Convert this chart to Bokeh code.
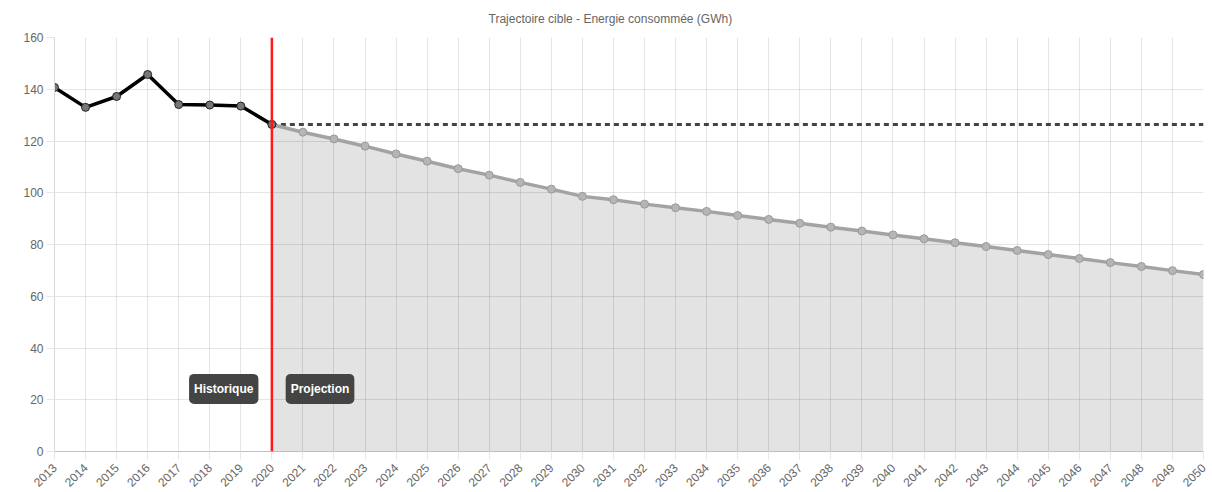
import math
from bokeh.plotting import figure
from bokeh.models import FixedTicker, Span, Label, Range1d
from bokeh.embed import file_html
from bokeh.resources import INLINE

# ---- data ----
years_hist = [2013, 2014, 2015, 2016, 2017, 2018, 2019, 2020]
energy_hist = [140.7, 133.0, 137.2, 145.7, 134.1, 133.9, 133.5, 126.4]

years_proj = list(range(2020, 2051))
energy_proj = [126.4, 123.4, 120.8, 118.0, 115.0, 112.2, 109.3, 106.8, 104.0, 101.4,
               98.6, 97.3, 95.6, 94.2, 92.8, 91.2, 89.7, 88.2, 86.7, 85.2,
               83.7, 82.2, 80.7, 79.2, 77.7, 76.1, 74.6, 73.0, 71.5, 69.9, 68.4]

ref_level = 126.4
ref_years = [2020, 2050]

y_ticks = [0, 20, 40, 60, 80, 100, 120, 140, 160]
x_ticks = list(range(2013, 2051))
split_year = 2020
title_text = "Trajectoire cible - Energie consommée (GWh)"
label_hist = "Historique"
label_proj = "Projection"

FONT = "Liberation Sans"

p = figure(frame_width=1149, frame_height=414, output_backend="svg", toolbar_location=None,
           x_range=Range1d(2013, 2050), y_range=Range1d(0, 160),
           min_border_left=54, min_border_top=37, min_border_right=8, min_border_bottom=0)

p.title.text = title_text
p.title.align = "left"
p.title.vertical_align = "top"
p.title.text_font = FONT
p.title.text_font_size = "12px"
p.title.text_font_style = "normal"
p.title.text_color = "#666666"
p.title.offset = 434
p.title.standoff = 19

p.outline_line_color = None
p.background_fill_color = "white"
p.border_fill_color = "white"

p.xgrid.ticker = FixedTicker(ticks=x_ticks)
p.ygrid.ticker = FixedTicker(ticks=y_ticks)
p.grid.grid_line_color = "black"
p.grid.grid_line_alpha = 0.1
p.grid.grid_line_width = 1

p.xaxis.ticker = FixedTicker(ticks=x_ticks)
p.yaxis.ticker = FixedTicker(ticks=y_ticks)
for ax in (p.xaxis, p.yaxis):
    ax.major_tick_in = 0
    ax.major_tick_out = 8
    ax.minor_tick_line_color = None
    ax.major_tick_line_color = "#e6e6e6"
    ax.major_label_text_font = FONT
    ax.major_label_text_font_size = "12px"
    ax.major_label_text_color = "#666666"
p.xaxis.axis_line_color = "#bfbfbf"
p.yaxis.axis_line_color = "#d9d9d9"
p.xaxis.major_label_orientation = math.pi / 4
p.xaxis.major_label_standoff = 6
p.yaxis.major_label_standoff = 3

# area under projection
p.varea(x=years_proj, y1=[0] * len(years_proj), y2=energy_proj,
        fill_color="black", fill_alpha=0.11)

# reference dotted line
p.line(ref_years, [ref_level] * len(ref_years), line_color="#444444",
       line_width=3, line_dash="5 4")

# projection line
p.line(years_proj, energy_proj, line_color="#a3a3a3", line_width=3.5)
p.scatter(years_proj, energy_proj, size=8, line_color="#9a9a9a", line_width=1,
          fill_color="#b5b5b5")

# historical line
p.line(years_hist, energy_hist, line_color="black", line_width=3.5)
p.scatter(years_hist, energy_hist, size=8, line_color="#222222", line_width=1,
          fill_color="#777777")

# split marker
p.add_layout(Span(location=split_year, dimension="height", line_color="#ff1a1a", line_width=2.5))

for txt, xc in ((label_hist, 2018.45), (label_proj, 2021.55)):
    p.add_layout(Label(x=xc, y=24.2, text=txt, text_align="center", text_baseline="middle",
                       text_font=FONT, text_font_size="12px", text_font_style="bold",
                       text_color="white", background_fill_color="#444444",
                       background_fill_alpha=1.0,
                       padding=dict(left=5, right=5, top=8, bottom=8), border_radius=5))

html = file_html(p, INLINE)
html = html.replace("<head>", "<head><style>html,body{overflow:hidden}</style>", 1)
open("out.html", "w").write(html)
